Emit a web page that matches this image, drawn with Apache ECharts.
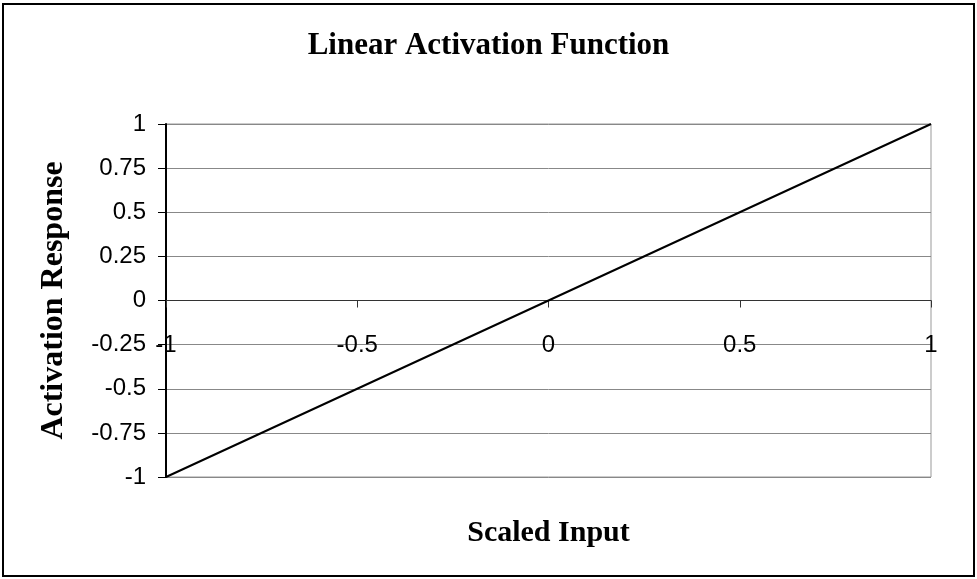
<!DOCTYPE html>
<html>
<head>
<meta charset="utf-8">
<script src="https://cdn.jsdelivr.net/npm/echarts@6/dist/echarts.min.js"></script>
<style>
  html, body { margin: 0; padding: 0; background: #fff; }
  #chart { width: 977px; height: 579px; }
</style>
</head>
<body>
<div id="chart"></div>
<script>
// data
const inputs = [-1, -0.5, 0, 0.5, 1];
const responses = [-1, -0.5, 0, 0.5, 1];

const chart = echarts.init(document.getElementById('chart'), null, { renderer: 'canvas' });

const serif = '"Liberation Serif", "DejaVu Serif", serif';
const sans = '"Liberation Sans", Arial, sans-serif';

const GRID_TOP = 124;
const GRID_BOTTOM = 102;
const PLOT_H = 579 - GRID_TOP - GRID_BOTTOM;

const option = {
    backgroundColor: '#fff',
    animation: false,
    title: {
        text: 'Linear Activation Function',
        left: 'center',
        top: 25,
        textStyle: { fontFamily: serif, fontWeight: 'bold', fontSize: 31, color: '#000' },
    },
    // outer frame
    graphic: [
        {
            type: 'rect',
            shape: { x: 3, y: 4, width: 971, height: 572 },
            style: { fill: 'none', stroke: '#000', lineWidth: 2 },
            silent: true,
        },
    ],
    grid: {
        left: 166,
        right: 46,
        top: GRID_TOP,
        bottom: GRID_BOTTOM,
        show: true,
        borderColor: '#999',
        borderWidth: 1,
        outerBoundsMode: 'none',
    },
    xAxis: {
        type: 'value',
        min: -1,
        max: 1,
        interval: 0.5,
        position: 'bottom',
        // axis sits on y = 0, i.e. half way up the plot
        offset: -PLOT_H / 2,
        name: 'Scaled Input',
        nameLocation: 'middle',
        nameGap: 218,
        nameTextStyle: { fontFamily: serif, fontWeight: 'bold', fontSize: 30, color: '#000' },
        axisLine: { show: true, onZero: false, lineStyle: { color: '#333', width: 1 } },
        axisTick: { show: true, inside: false, length: 7, lineStyle: { color: '#333' } },
        axisLabel: {
            fontFamily: sans,
            fontSize: 24,
            color: '#000',
            margin: 33,
            showMinLabel: true,
            showMaxLabel: true,
            formatter: v => String(v),
        },
        splitLine: { show: false },
    },
    yAxis: {
        type: 'value',
        min: -1,
        max: 1,
        interval: 0.25,
        name: 'Activation Response',
        nameLocation: 'middle',
        nameGap: 96,
        nameTextStyle: { fontFamily: serif, fontWeight: 'bold', fontSize: 32, color: '#000' },
        axisLine: { show: true, onZero: false, lineStyle: { color: '#000', width: 2 } },
        axisTick: { show: true, inside: false, length: 8, lineStyle: { color: '#000' } },
        axisLabel: {
            fontFamily: sans,
            fontSize: 24,
            color: '#000',
            margin: 20,
            formatter: v => String(v),
        },
        splitLine: { show: true, lineStyle: { color: '#888', width: 1 } },
    },
    series: [
        {
            type: 'line',
            data: inputs.map((x, i) => [x, responses[i]]),
            showSymbol: false,
            symbol: 'none',
            lineStyle: { color: '#000', width: 2 },
        },
    ],
};

chart.setOption(option);
</script>
</body>
</html>
